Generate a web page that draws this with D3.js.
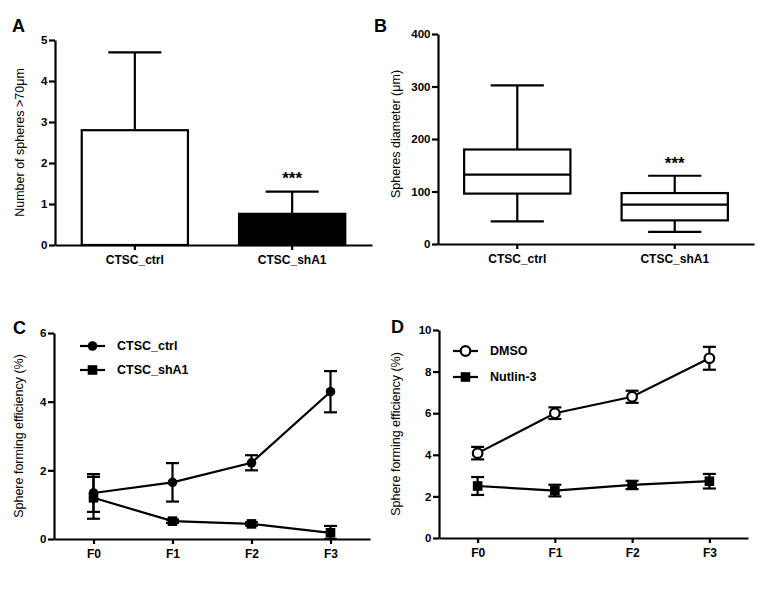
<!DOCTYPE html>
<html><head><meta charset="utf-8">
<script src="https://cdn.jsdelivr.net/npm/d3@7"></script>
<style>
html,body{margin:0;padding:0;background:#fff;}
svg{display:block;font-family:"Liberation Sans",Arial,sans-serif;}
</style></head>
<body>
<svg id="chart" width="762" height="601"></svg>
<script>
// ---------- data ----------
const groups = ["CTSC_ctrl", "CTSC_shA1"];
const sphereCount = [2.8, 0.76];
const sphereCountErr = [1.9, 0.54];
const boxLow = [43, 23];
const boxQ1 = [96, 45];
const boxMedian = [132, 75];
const boxQ3 = [180, 97];
const boxHigh = [302, 130];
const passages = ["F0", "F1", "F2", "F3"];
const ctrlMean = [1.34, 1.65, 2.22, 4.29];
const ctrlErr = [0.55, 0.56, 0.22, 0.6];
const shA1Mean = [1.2, 0.52, 0.44, 0.18];
const shA1Err = [0.61, 0.05, 0.05, 0.2];
const dmsoMean = [4.08, 6.0, 6.79, 8.64];
const dmsoErr = [0.3, 0.28, 0.29, 0.55];
const nutlinMean = [2.5, 2.28, 2.55, 2.73];
const nutlinErr = [0.43, 0.28, 0.2, 0.35];
const ticksA = [0, 1, 2, 3, 4, 5];
const ticksB = [0, 100, 200, 300, 400];
const ticksC = [0, 2, 4, 6];
const ticksD = [0, 2, 4, 6, 8, 10];

const svg = d3.select("#chart");
const SW = 2.2;

function yAxis(g, y, ticks) {
  const a = g.append("g").attr("transform", `translate(${y.xPos},0)`)
    .call(d3.axisLeft(y).tickValues(ticks).tickFormat(d3.format("d")).tickSize(6).tickSizeOuter(0).tickPadding(1.5));
  a.select(".domain").attr("stroke", "#000").attr("stroke-width", SW);
  a.selectAll(".tick line").attr("stroke", "#000").attr("stroke-width", SW);
  a.selectAll(".tick text").attr("font-size", 11.5).attr("font-weight", "bold").attr("fill", "#000")
    .attr("font-family", "Liberation Sans, Arial, sans-serif");
  return a;
}
function xAxis(g, x, y0) {
  const a = g.append("g").attr("transform", `translate(0,${y0})`)
    .call(d3.axisBottom(x).tickSize(5).tickSizeOuter(0).tickPadding(5));
  a.select(".domain").attr("stroke", "#000").attr("stroke-width", SW);
  a.selectAll(".tick line").attr("stroke", "#000").attr("stroke-width", SW);
  a.selectAll(".tick text").attr("font-size", 12).attr("font-weight", "bold").attr("fill", "#000")
    .attr("font-family", "Liberation Sans, Arial, sans-serif");
  return a;
}
function yTitle(g, text, x, yc) {
  g.append("text").attr("transform", `translate(${x},${yc}) rotate(-90)`)
    .attr("text-anchor", "middle").attr("dominant-baseline", "central")
    .attr("font-size", 12.5).text(text);
}
function panelLabel(text, x, y) {
  svg.append("text").attr("x", x).attr("y", y).attr("font-size", 18)
    .attr("font-weight", "bold").text(text);
}

// ---------- Panel A ----------
{
  const g = svg.append("g");
  const x = d3.scaleBand().domain(groups).range([55, 372]).paddingInner(0.325).paddingOuter(0.17);
  const y = d3.scaleLinear().domain([0, 5]).range([245, 40]);
  y.xPos = 55;
  const bw = x.bandwidth();
  groups.forEach((c, i) => {
    const cx = x(c) + bw / 2;
    g.append("line").attr("x1", cx).attr("x2", cx)
      .attr("y1", y(sphereCount[i])).attr("y2", y(sphereCount[i] + sphereCountErr[i]))
      .attr("stroke", "#000").attr("stroke-width", SW);
    g.append("line").attr("x1", cx - bw / 4).attr("x2", cx + bw / 4)
      .attr("y1", y(sphereCount[i] + sphereCountErr[i])).attr("y2", y(sphereCount[i] + sphereCountErr[i]))
      .attr("stroke", "#000").attr("stroke-width", SW);
  });
  g.selectAll("rect.bar").data(groups).join("rect").attr("class", "bar")
    .attr("x", d => x(d)).attr("width", bw)
    .attr("y", (d, i) => y(sphereCount[i])).attr("height", (d, i) => y(0) - y(sphereCount[i]))
    .attr("fill", (d, i) => i === 0 ? "#fff" : "#000")
    .attr("stroke", "#000").attr("stroke-width", SW);
  yAxis(g, y, ticksA);
  xAxis(g, x, 245);
  g.append("text").attr("x", x(groups[1]) + bw / 2).attr("y", y(sphereCount[1] + sphereCountErr[1]) - 8)
    .attr("text-anchor", "middle").attr("font-size", 17).attr("font-weight", "bold").text("***");
  yTitle(g, "Number of spheres >70\u03bcm", 20, (y(0) + y(5)) / 2);
  panelLabel("A", 12, 32);
}

// ---------- Panel B ----------
{
  const g = svg.append("g");
  const x = d3.scaleBand().domain(groups).range([438, 754]).paddingInner(0.325).paddingOuter(0.166);
  const y = d3.scaleLinear().domain([0, 400]).range([244, 34]);
  y.xPos = 438;
  const bw = x.bandwidth();
  groups.forEach((c, i) => {
    const x0 = x(c), cx = x0 + bw / 2;
    const ln = (x1, y1, x2, y2) => g.append("line").attr("x1", x1).attr("y1", y1).attr("x2", x2).attr("y2", y2)
      .attr("stroke", "#000").attr("stroke-width", SW);
    ln(cx, y(boxHigh[i]), cx, y(boxQ3[i]));
    ln(cx, y(boxLow[i]), cx, y(boxQ1[i]));
    ln(cx - bw / 4, y(boxHigh[i]), cx + bw / 4, y(boxHigh[i]));
    ln(cx - bw / 4, y(boxLow[i]), cx + bw / 4, y(boxLow[i]));
    g.append("rect").attr("x", x0).attr("width", bw).attr("y", y(boxQ3[i]))
      .attr("height", y(boxQ1[i]) - y(boxQ3[i])).attr("fill", "#fff").attr("stroke", "#000").attr("stroke-width", SW);
    ln(x0, y(boxMedian[i]), x0 + bw, y(boxMedian[i]));
  });
  yAxis(g, y, ticksB);
  xAxis(g, x, 244);
  g.append("text").attr("x", x(groups[1]) + bw / 2).attr("y", y(boxHigh[1]) - 7)
    .attr("text-anchor", "middle").attr("font-size", 17).attr("font-weight", "bold").text("***");
  yTitle(g, "Spheres diameter (\u03bcm)", 396, (y(0) + y(400)) / 2 - 5);
  panelLabel("B", 374, 32);
}

// ---------- line panels ----------
function linePanel(opts) {
  const g = svg.append("g");
  const x = d3.scalePoint().domain(passages).range(opts.xr).padding(0.5);
  const y = d3.scaleLinear().domain(opts.yd).range(opts.yr);
  y.xPos = opts.xr[0];
  const capW = 6.5;
  opts.series.forEach(s => {
    passages.forEach((p, i) => {
      const cx = x(p);
      const hi = s.mean[i] + s.err[i], lo = Math.max(opts.yd[0], s.mean[i] - s.err[i]);
      g.append("line").attr("x1", cx).attr("x2", cx).attr("y1", y(hi)).attr("y2", y(lo))
        .attr("stroke", "#000").attr("stroke-width", SW);
      [hi, lo].forEach(v => g.append("line").attr("x1", cx - capW).attr("x2", cx + capW)
        .attr("y1", y(v)).attr("y2", y(v)).attr("stroke", "#000").attr("stroke-width", SW));
    });
    g.append("path").datum(s.mean)
      .attr("d", d3.line().x((d, i) => x(passages[i])).y(d => y(d)))
      .attr("fill", "none").attr("stroke", "#000").attr("stroke-width", SW);
  });
  yAxis(g, y, opts.ticks);
  xAxis(g, x, opts.yr[0]);
  const marker = (sel, shape, cx, cy) => {
    if (shape === "circle") sel.append("circle").attr("cx", cx).attr("cy", cy).attr("r", 4.8).attr("fill", "#000");
    else if (shape === "open") sel.append("circle").attr("cx", cx).attr("cy", cy).attr("r", 4.8)
      .attr("fill", "#fff").attr("stroke", "#000").attr("stroke-width", SW);
    else sel.append("rect").attr("x", cx - 4.8).attr("y", cy - 4.8).attr("width", 9.6).attr("height", 9.6).attr("fill", "#000");
  };
  opts.series.forEach((s, k) => {
    passages.forEach((p, i) => marker(g, s.shape, x(p), y(s.mean[i])));
    const ly = opts.legY[k];
    g.append("line").attr("x1", opts.legX[0]).attr("x2", opts.legX[1]).attr("y1", ly).attr("y2", ly)
      .attr("stroke", "#000").attr("stroke-width", SW);
    marker(g, s.shape, (opts.legX[0] + opts.legX[1]) / 2, ly);
    g.append("text").attr("x", opts.legX[2]).attr("y", ly).attr("dominant-baseline", "central")
      .attr("font-size", 12.5).attr("font-weight", "bold").text(s.name);
  });
  yTitle(g, "Sphere forming efficiency (%)", opts.titleX, (opts.yr[0] + opts.yr[1]) / 2);
}

linePanel({
  xr: [54, 370], yd: [0, 6], yr: [539, 333], ticks: ticksC,
  series: [
    { name: "CTSC_ctrl", mean: ctrlMean, err: ctrlErr, shape: "circle" },
    { name: "CTSC_shA1", mean: shA1Mean, err: shA1Err, shape: "square" }
  ],
  legX: [80, 105, 117], legY: [346, 370], titleX: 19
});
panelLabel("C", 13, 334);

linePanel({
  xr: [439, 748], yd: [0, 10], yr: [538, 330], ticks: ticksD,
  series: [
    { name: "DMSO", mean: dmsoMean, err: dmsoErr, shape: "open" },
    { name: "Nutlin-3", mean: nutlinMean, err: nutlinErr, shape: "square" }
  ],
  legX: [453, 478, 490], legY: [351, 377], titleX: 396
});
panelLabel("D", 391, 333);
</script>
</body></html>
